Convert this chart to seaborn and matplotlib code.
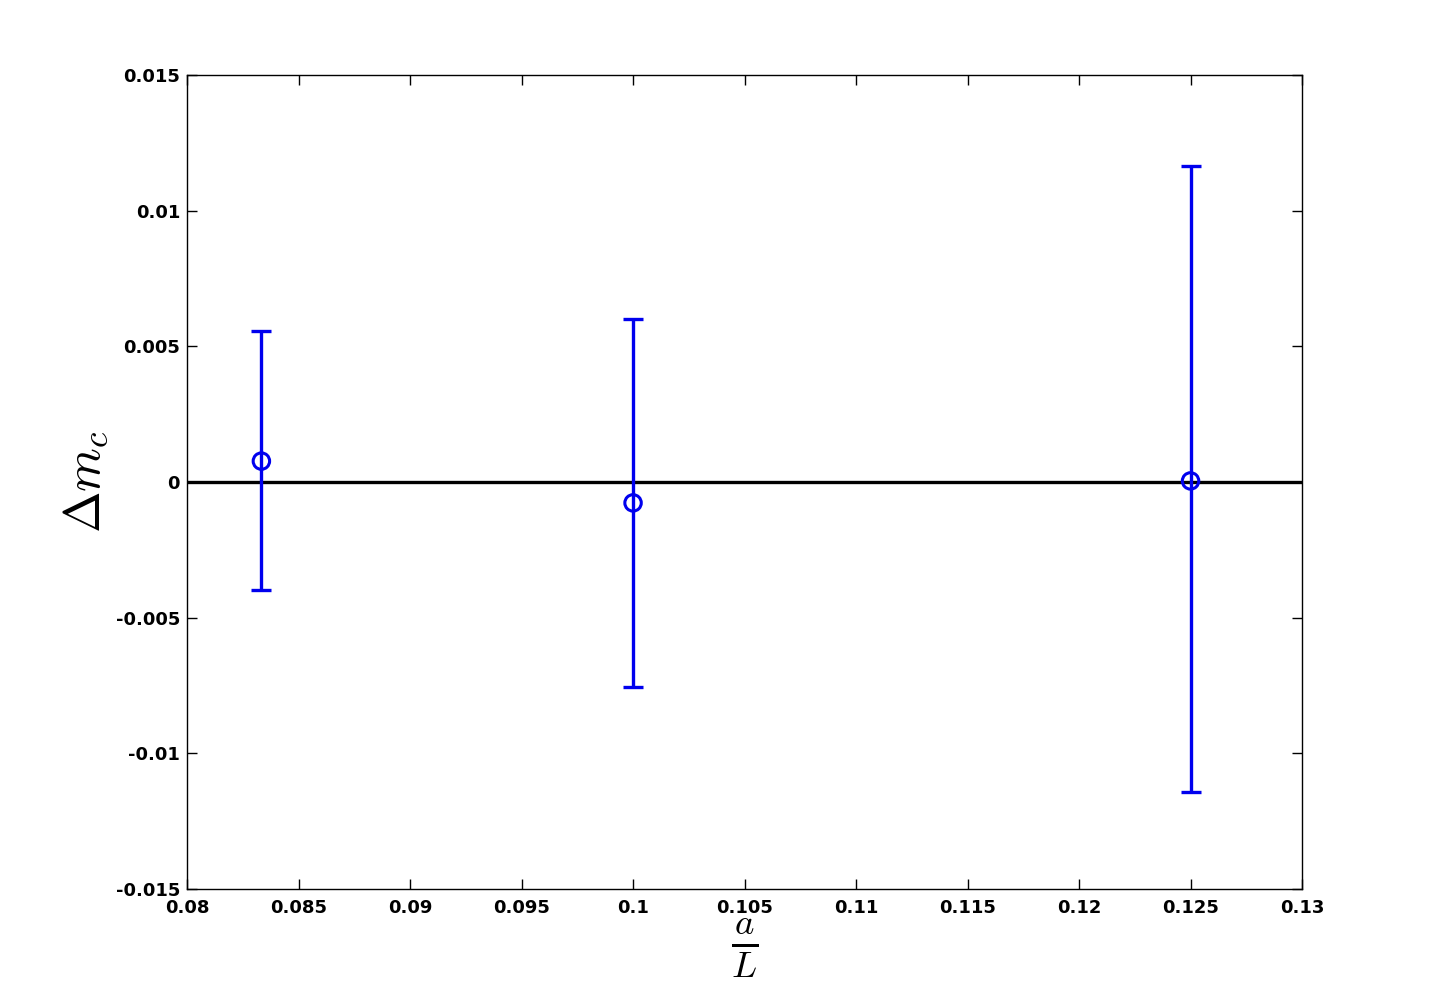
import matplotlib
matplotlib.use("Agg")
import matplotlib.pyplot as plt
import seaborn as sns
import pandas as pd
import numpy as np

# Data
a_over_L = [1/12, 0.1, 0.125]
delta_mc = [0.00077, -0.00077, 0.00004]
err_upper = [0.00555, 0.0060, 0.01166]
err_lower = [-0.00397, -0.00754, -0.01143]

xticks = [0.08, 0.085, 0.09, 0.095, 0.1, 0.105, 0.11, 0.115, 0.12, 0.125, 0.13]
xtick_labels = ["0.08", "0.085", "0.09", "0.095", "0.1", "0.105", "0.11", "0.115", "0.12", "0.125", "0.13"]
yticks = [-0.015, -0.01, -0.005, 0, 0.005, 0.01, 0.015]
ytick_labels = ["-0.015", "-0.01", "-0.005", "0", "0.005", "0.01", "0.015"]

df = pd.DataFrame({"x": a_over_L, "y": delta_mc, "hi": err_upper, "lo": err_lower})

sns.set_style("white")
plt.rcParams['font.family'] = ['DejaVu Sans']
plt.rcParams['mathtext.fontset'] = 'cm'

fig = plt.figure(figsize=(14.4, 10), dpi=100)
ax = fig.add_axes([0.1299, 0.111, 0.7743, 0.814])

ax.axhline(0, color='black', lw=2.4, zorder=1)

yerr = np.array([df["y"] - df["lo"], df["hi"] - df["y"]])
ax.errorbar(df["x"], df["y"], yerr=yerr, fmt='none', ecolor='#0000ee',
            elinewidth=2.4, capsize=7, capthick=2.4, zorder=2)
sns.scatterplot(data=df, x="x", y="y", ax=ax, marker='o', s=140,
                facecolor='none', edgecolor='#0000ee', linewidth=2.2, zorder=3)

ax.set_xlim(0.08, 0.13)
ax.set_ylim(-0.015, 0.015)
ax.set_xticks(xticks)
ax.set_xticklabels(xtick_labels, fontsize=13, fontweight='bold', color='black')
ax.set_yticks(yticks)
ax.set_yticklabels(ytick_labels, fontsize=13, fontweight='bold', color='black')
ax.tick_params(direction='in', length=7, width=1, top=True, right=True,
               bottom=True, left=True, pad=5, colors='black')
ax.tick_params(axis='x', pad=7)
for s in ax.spines.values():
    s.set_color('black')
    s.set_linewidth(1)

ax.set_xlabel(r"$\frac{a}{L}$", fontsize=38, labelpad=0, color='black')
ax.set_ylabel(r"$\Delta m_c$", fontsize=36, color='black')
ax.yaxis.set_label_coords(-0.069, 0.5)

fig.savefig("out.png", dpi=100, facecolor='white')
